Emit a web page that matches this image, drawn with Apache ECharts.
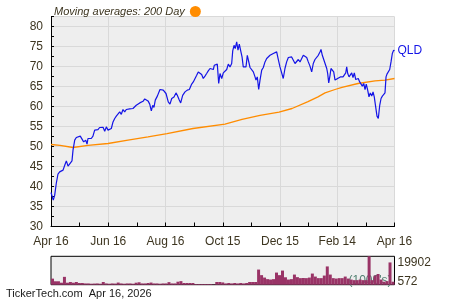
<!DOCTYPE html>
<html><head><meta charset="utf-8">
<script src="https://cdn.jsdelivr.net/npm/echarts@6/dist/echarts.min.js"></script>
<style>html,body{margin:0;padding:0;background:#fff}#c{width:450px;height:300px}</style>
</head><body><div id="c"></div>
<script>
// x tick labels (evenly spaced over one year)
var xTickLabels = ['Apr 16','Jun 16','Aug 16','Oct 15','Dec 15','Feb 14','Apr 16'];
// QLD price: [days since Apr 16, close]
var pricePts = [[0,38.5],[1.1,38.5],[2.4,36.6],[3.9,37.8],[5.6,40.75],[7.4,43.1],[9.2,43.65],[10.9,43.9],[12.8,44.1],[14.6,45.3],[16.3,46.4],[18.1,45.1],[19.9,45.6],[22.3,46.4],[23.4,49.1],[25.2,51.6],[26.9,52.25],[28.7,52.6],[31.1,52.6],[32.9,52.3],[34.7,51.15],[36.9,51.6],[38.3,50.6],[39.3,52],[41.1,52.3],[42.8,52],[44.6,52.6],[46.4,54.1],[48.1,53.8],[49.9,54.2],[51.7,54.75],[53.4,55.1],[55.3,54.8],[57.1,53.8],[58.8,54.9],[60.6,54.1],[62.4,54],[64.1,54.5],[65.9,56.15],[67.7,57],[69.4,57.6],[71.2,57.8],[73,58.65],[74.7,58.05],[76.5,59.25],[78.3,58.65],[80,59.25],[81.8,59.1],[83.6,59.4],[85.3,59.25],[87.1,59.5],[88.9,59.75],[90.6,60.3],[92.4,60.6],[94.3,60.9],[96,60.75],[97.8,61.3],[99.6,61.9],[101.3,61.75],[103.1,61.4],[104.9,60.6],[106.6,58.9],[108.1,60.3],[109.4,59.75],[110.8,61.6],[113,62.6],[114.8,62.8],[115.8,64.25],[117.6,64.3],[119.3,64.1],[122.2,63.25],[124.6,61.15],[126.4,60.6],[128.3,62],[130.7,62.4],[132.8,63.4],[134.2,62.8],[136.3,61.6],[137.8,60.9],[139.9,62.8],[142.4,63.65],[144.8,64.1],[147,64.25],[149.5,65.6],[151.2,66.15],[153,65.9],[154.8,67.8],[156.5,68.65],[158.3,68.9],[160.1,68],[161.8,67],[163.6,67.6],[165.4,68.25],[167.1,68.9],[169,69.5],[170.8,69.9],[172.5,69.25],[173.5,70.3],[175.3,70.75],[176.7,70.6],[178.2,65.75],[179.6,68.25],[181.4,67],[183.1,68.4],[184.9,68.25],[186.7,69.25],[188.4,70.6],[190.2,69.9],[192,70.75],[193.1,73.9],[194.5,75.3],[195.8,74.5],[197.3,76.15],[198.7,74.1],[200.1,75.6],[201.6,73.9],[203,72.4],[204.3,69.9],[205.8,69.5],[207.2,69.9],[208.6,72.8],[210.1,72.4],[211.5,69.75],[213.3,69.25],[215,68.65],[216.8,67.4],[217.8,66.6],[219.2,67.4],[220.7,64.25],[222.1,66.6],[223.9,69.1],[225.6,69.75],[227.4,71.15],[229.2,72],[230.9,72.4],[232.7,72.8],[234.5,73.1],[236.2,73.25],[238,73.2],[239.8,73.65],[241.5,71.8],[243.3,69.9],[245.1,69.5],[246.8,67],[248.6,69.5],[250.4,71.15],[252.2,72.25],[254,72.6],[255.7,72.4],[257.5,72],[259.3,70.75],[261.1,70.3],[262.8,71.75],[264.6,71.15],[266.4,72],[268.1,72.8],[269.9,72.8],[271.7,72.25],[273.4,71.15],[275.2,70.1],[277,68.65],[278.7,70.75],[280.5,71.75],[282.3,72.25],[284,72.8],[285.8,73.65],[286.9,74.25],[288.3,72.8],[289.8,71.75],[291.2,72],[293,69.5],[294,68.25],[295.1,65.9],[296.5,67.8],[297.5,69.5],[298.9,69.25],[300.4,68.65],[301.8,66.6],[303.2,66.6],[304.6,67],[306,66.6],[307.4,67.4],[308.9,67],[310.3,67.4],[311.7,67],[313.2,68.4],[314.2,69.9],[315.3,68.25],[316.7,67.4],[318,67.8],[319.5,68.4],[320.9,67.25],[322.3,68.4],[323.8,66.75],[325.2,66.4],[326.5,67],[328,66.15],[329.4,66.6],[330.8,65.1],[332.3,65.75],[333.7,64.25],[335,65.6],[336.5,64.1],[337.9,62.4],[339.3,63.4],[340.8,62.6],[342.2,63.65],[343.5,62.4],[345,59.9],[346.4,57.6],[347.8,57],[349.3,60.3],[350.7,62],[352.1,62.6],[353.6,63.1],[354.9,63.4],[356,67.4],[357,68.1],[358.4,68.25],[359.9,69.25],[361.3,71.15],[362.7,73.25],[364.1,74.1],[365,73.9]];
// 200-day moving average: [days, value]
var maPts = [[0,50.5],[9.6,50.3],[23.4,49.75],[39.3,50.3],[60.6,50.75],[81.8,51.6],[103.1,52.4],[123.3,53.2],[150.9,54.5],[184.9,55.6],[203,56.8],[222.1,57.8],[242.3,58.6],[256.1,59.5],[273.1,61.2],[283.7,62.4],[291.2,63.4],[301.8,64.25],[309.2,64.8],[326.2,65.75],[344.3,66.4],[354.9,66.6],[365,67]];
// volume (1000's), evenly sampled across the year
var volumes = [4260,2400,2400,1400,5500,1400,1900,1400,1900,1200,1200,900,900,700,800,900,700,1900,900,700,900,800,1500,900,700,900,900,700,1400,1700,900,900,1200,1500,900,900,700,900,900,1800,900,900,2100,2500,1200,1200,1200,1200,500,500,500,500,500,500,200,1900,1900,1600,900,1200,900,1200,900,1200,900,1200,1900,1900,1900,10600,6700,5000,3900,3600,3900,8500,6700,9900,5200,3600,3900,7100,5300,4600,4700,4600,5000,7800,5700,4600,4600,6400,12800,7100,4600,4300,4600,4600,5700,4300,3600,3200,3200,3600,3200,3200,19902,3200,6400,7500,3600,2100,2500,15600,2100];
var volLabels = [572, 19902];
var yTicks = {min: 30, max: 82.45, step: 5};

var FONT = "'Liberation Sans', Arial, sans-serif";
var TXT = '#3d3520';
var volCats = volumes.map(function (v, i) { return i; });
var xStep = 365 / (xTickLabels.length - 1);

var chart = echarts.init(document.getElementById('c'), null, {renderer: 'canvas'});
chart.setOption({
  animation: false,
  backgroundColor: '#fff',
  textStyle: {fontFamily: FONT},
  legend: {
    left: 49, top: 1, align: 'right', icon: 'circle', itemWidth: 11, itemHeight: 11,
    itemGap: 5, data: ['Moving averages: 200 Day'],
    textStyle: {fontFamily: FONT, fontSize: 11, fontStyle: 'italic', color: TXT, padding: [0, 0, 0, 0]}
  },
  grid: [
    {left: 51, top: 16.7, width: 343.5, height: 209.8, show: true, backgroundColor: '#eeeeee', borderWidth: 0},
    {left: 51, top: 256.3, width: 343.5, height: 28.4, show: true, backgroundColor: '#eeeeee', borderColor: '#000', borderWidth: 1}
  ],
  xAxis: [
    {type: 'value', gridIndex: 0, min: 0, max: 365, interval: xStep,
     axisLine: {show: true, lineStyle: {color: '#000', width: 1}},
     axisTick: {show: true, inside: true, length: 4, lineStyle: {color: '#000'}},
     minorTick: {show: true, splitNumber: 2, length: 4, lineStyle: {color: '#000'}},
     splitLine: {show: true, lineStyle: {color: '#d9d9d9', width: 1}},
     axisLabel: {margin: 9, fontSize: 12, color: TXT, fontFamily: FONT,
       formatter: function (v) { return xTickLabels[Math.round(v / xStep)] || ''; }}},
    {type: 'category', gridIndex: 1, data: volCats, boundaryGap: true,
     axisLine: {show: false}, axisTick: {show: false}, axisLabel: {show: false}, splitLine: {show: false}}
  ],
  yAxis: [
    {type: 'value', gridIndex: 0, min: yTicks.min, max: yTicks.max, interval: yTicks.step,
     axisLine: {show: true, lineStyle: {color: '#000', width: 1}},
     axisTick: {show: true, inside: true, length: 3, lineStyle: {color: '#000'}},
     minorTick: {show: true, splitNumber: 2, length: 3, lineStyle: {color: '#000'}},
     splitLine: {show: true, lineStyle: {color: '#d9d9d9', width: 1}},
     axisLabel: {margin: 8, fontSize: 12, color: TXT, fontFamily: FONT, showMaxLabel: false,
       formatter: function (v) { return (v % 5 === 0) ? String(v) : ''; }}},
    {type: 'value', gridIndex: 1, position: 'right', min: 0, max: volLabels[1],
     name: "(1000's)", nameLocation: 'start', nameGap: -4,
     nameTextStyle: {color: '#4f7f70', fontSize: 12, fontFamily: FONT, align: 'right', verticalAlign: 'middle', padding: [0, 3, 0, 0]},
     axisLine: {show: false}, axisTick: {show: false}, splitLine: {show: false},
     axisLabel: {show: true, customValues: volLabels, margin: 3, fontSize: 12, color: TXT, fontFamily: FONT,
       formatter: function (v) { return v === volLabels[1] ? '{t|' + v + '}' : '{b|' + v + '}'; },
       rich: {t: {padding: [13, 0, 0, 0], fontSize: 12, color: TXT, fontFamily: FONT},
              b: {padding: [0, 0, 4, 0], fontSize: 12, color: TXT, fontFamily: FONT}}}}
  ],
  series: [
    {name: 'Moving averages: 200 Day', type: 'line', xAxisIndex: 0, yAxisIndex: 0, data: maPts,
     showSymbol: false, symbol: 'circle', lineStyle: {color: '#ff8c00', width: 1.3}, itemStyle: {color: '#ff8c00'}, z: 3},
    {name: 'QLD', type: 'line', xAxisIndex: 0, yAxisIndex: 0, data: pricePts,
     showSymbol: false, lineStyle: {color: '#1414e6', width: 1.2}, itemStyle: {color: '#1414e6'}, z: 4,
     endLabel: {show: true, formatter: 'QLD', distance: 3, color: '#1414e6', fontSize: 12, fontFamily: FONT}},
    {name: 'Volume', type: 'bar', xAxisIndex: 1, yAxisIndex: 1, data: volumes,
     barCategoryGap: 0, barGap: 0, itemStyle: {color: '#993366'}}
  ],
  graphic: [
    {type: 'text', left: 6, top: 288, style: {text: 'TickerTech.com  Apr 16, 2026', fill: '#1a1a1a', font: '11px ' + FONT}}
  ]
});
</script></body></html>
